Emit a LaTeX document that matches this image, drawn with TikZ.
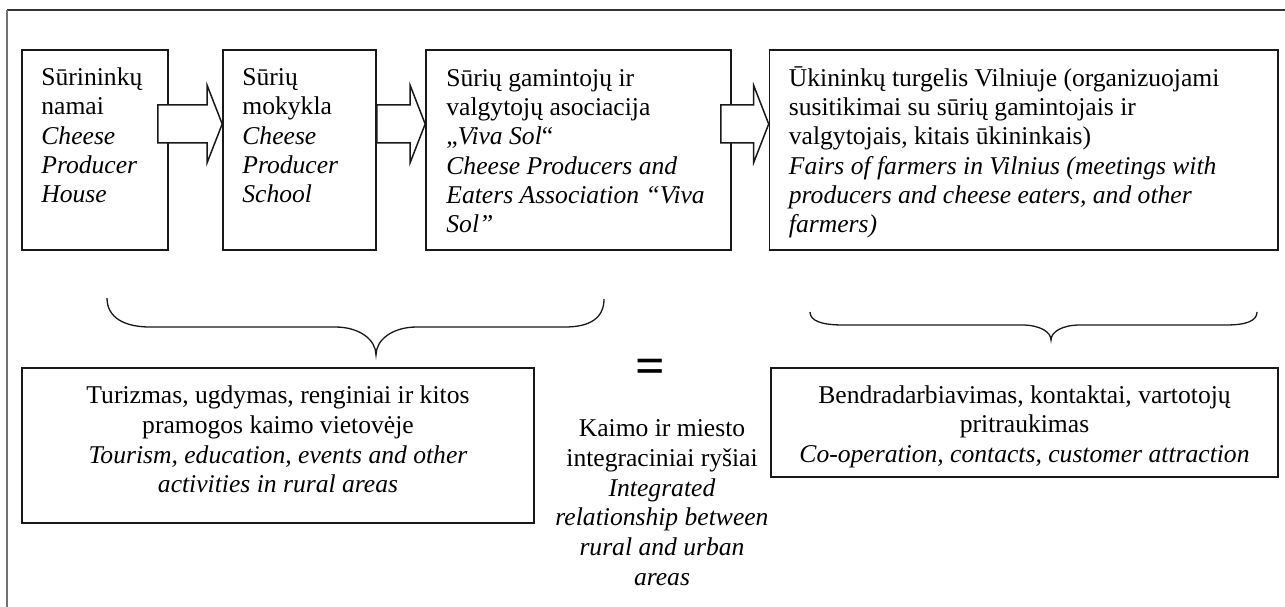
\documentclass[tikz,border=0pt]{standalone}
\usepackage{fontspec}
\setmainfont{Liberation Serif}
\usetikzlibrary{calc}
\begin{document}
\begin{tikzpicture}[x=1pt,y=-1pt,
  every node/.style={font=\fontsize{25.6}{29.3}\selectfont, inner sep=0pt},
  box/.style={draw=black!90, line width=1.6pt, rectangle, inner sep=0pt},
  txt/.style={align=left, anchor=base west},
  ctxt/.style={align=center, anchor=base, font=\fontsize{25.6}{29.6}\selectfont},
  blk/.style={draw=black!90, line width=1.5pt, fill=white, line join=miter},
  blockarrow/.style={to path={let \p1=(\tikztostart), \p2=(\tikztotarget) in
     (\x1,\y1+19pt) -- (\x2-15pt,\y1+19pt) -- (\x2-15pt,\y1+38.5pt) -- (\x2,\y1)
     -- (\x2-15pt,\y1-38.5pt) -- (\x2-15pt,\y1-19pt) -- (\x1,\y1-19pt) -- cycle}},
  bracestyle/.style={draw=black!90, line width=1.3pt}]
\useasboundingbox (0,0) rectangle (1285,607);
% outer frame
\draw[line width=1.3pt, black!80] (7,10) -- (1285,10);
\draw[line width=2pt, black!55] (7,10) -- (7,607);

% top row boxes
\node[box, minimum width=146pt, minimum height=200pt] (b1) at (95,150) {};
\node[box, minimum width=153pt, minimum height=200pt] (b2) at (299.5,150) {};
\node[box, minimum width=305pt, minimum height=200pt] (b3) at (578.5,150) {};
\node[box, minimum width=508.5pt, minimum height=200pt] (b4) at (1023.75,150) {};

% block arrows
\draw[blk] ([xshift=-11pt,yshift=26pt]b1.east) to[blockarrow] ([yshift=26pt]b2.west);
\draw[blk] ([yshift=26pt]b2.east) to[blockarrow] ([yshift=26pt]b3.west);
\draw[blk] ([xshift=-11pt,yshift=26pt]b3.east) to[blockarrow] ([yshift=26pt]b4.west);

% top row texts (anchor = baseline of last line)
\node[txt] (t1) at ([xshift=20pt,yshift=-153.5pt]b1.north west)
  {Sūrininkų\\ namai\\ \textit{Cheese}\\ \textit{Producer}\\ \textit{House}};
\node[txt] (t2) at ([xshift=20pt,yshift=-153.5pt]b2.north west)
  {Sūrių\\ mokykla\\ \textit{Cheese}\\ \textit{Producer}\\ \textit{School}};
\node[txt] (t3) at ([xshift=21pt,yshift=-183.5pt]b3.north west)
  {Sūrių gamintojų ir\\ valgytojų asociacija\\ „\textit{Viva Sol}“\\ \textit{Cheese Producers and}\\ \textit{Eaters Association “Viva}\\ \textit{Sol”}};
\node[txt] (t4) at ([xshift=20pt,yshift=-183.5pt]b4.north west)
  {Ūkininkų turgelis Vilniuje (organizuojami\\ susitikimai su sūrių gamintojais ir\\ valgytojais, kitais ūkininkais)\\ \textit{Fairs of farmers in Vilnius (meetings with}\\ \textit{producers and cheese eaters, and other}\\ \textit{farmers)}};

% braces
\coordinate (br1l) at (107,298);
\coordinate (br1t) at (376,355);
\coordinate (br1r) at (604,299);
\draw[bracestyle] (br1l) .. controls (107,318) and (125,327) .. (150,327) -- (335,327)
  .. controls (360,327) and (376,340) .. (br1t)
  .. controls (376,340) and (392,327) .. (417,327) -- (565,327)
  .. controls (590,327) and (604,318) .. (br1r);
\coordinate (br2l) at (810,312);
\coordinate (br2t) at (1051,340);
\coordinate (br2r) at (1257,312);
\draw[bracestyle] (br2l) .. controls (810,321) and (822,325) .. (843,325) -- (1022,325)
  .. controls (1040,325) and (1051,332) .. (br2t)
  .. controls (1051,332) and (1062,325) .. (1080,325) -- (1226,325)
  .. controls (1246,325) and (1257,321) .. (br2r);

% bottom boxes
\node[box, minimum width=512pt, minimum height=155pt] (b5) at (278,445.5) {};
\node[ctxt] (t5) at ([yshift=-125.5pt]b5.north)
  {Turizmas, ugdymas, renginiai ir kitos\\ pramogos kaimo vietovėje\\ \textit{Tourism, education, events and other}\\ \textit{activities in rural areas}};
\node[box, minimum width=507pt, minimum height=109pt] (b6) at (1024.5,422.5) {};
\node[ctxt] (t6) at ([yshift=-95pt]b6.north)
  {Bendradarbiavimas, kontaktai, vartotojų\\ pritraukimas\\ \textit{Co-operation, contacts, customer attraction}};

% equals and middle text
\node[font=\fontsize{52}{54}\selectfont\bfseries] (eq) at (650,371) {=};
\node[ctxt, font=\fontsize{25.6}{29.8}\selectfont] (mid) at (662,585.5)
  {Kaimo ir miesto\\ integraciniai ryšiai\\ \textit{Integrated}\\ \textit{relationship between}\\ \textit{rural and urban}\\ \textit{areas}};
\end{tikzpicture}
\end{document}
